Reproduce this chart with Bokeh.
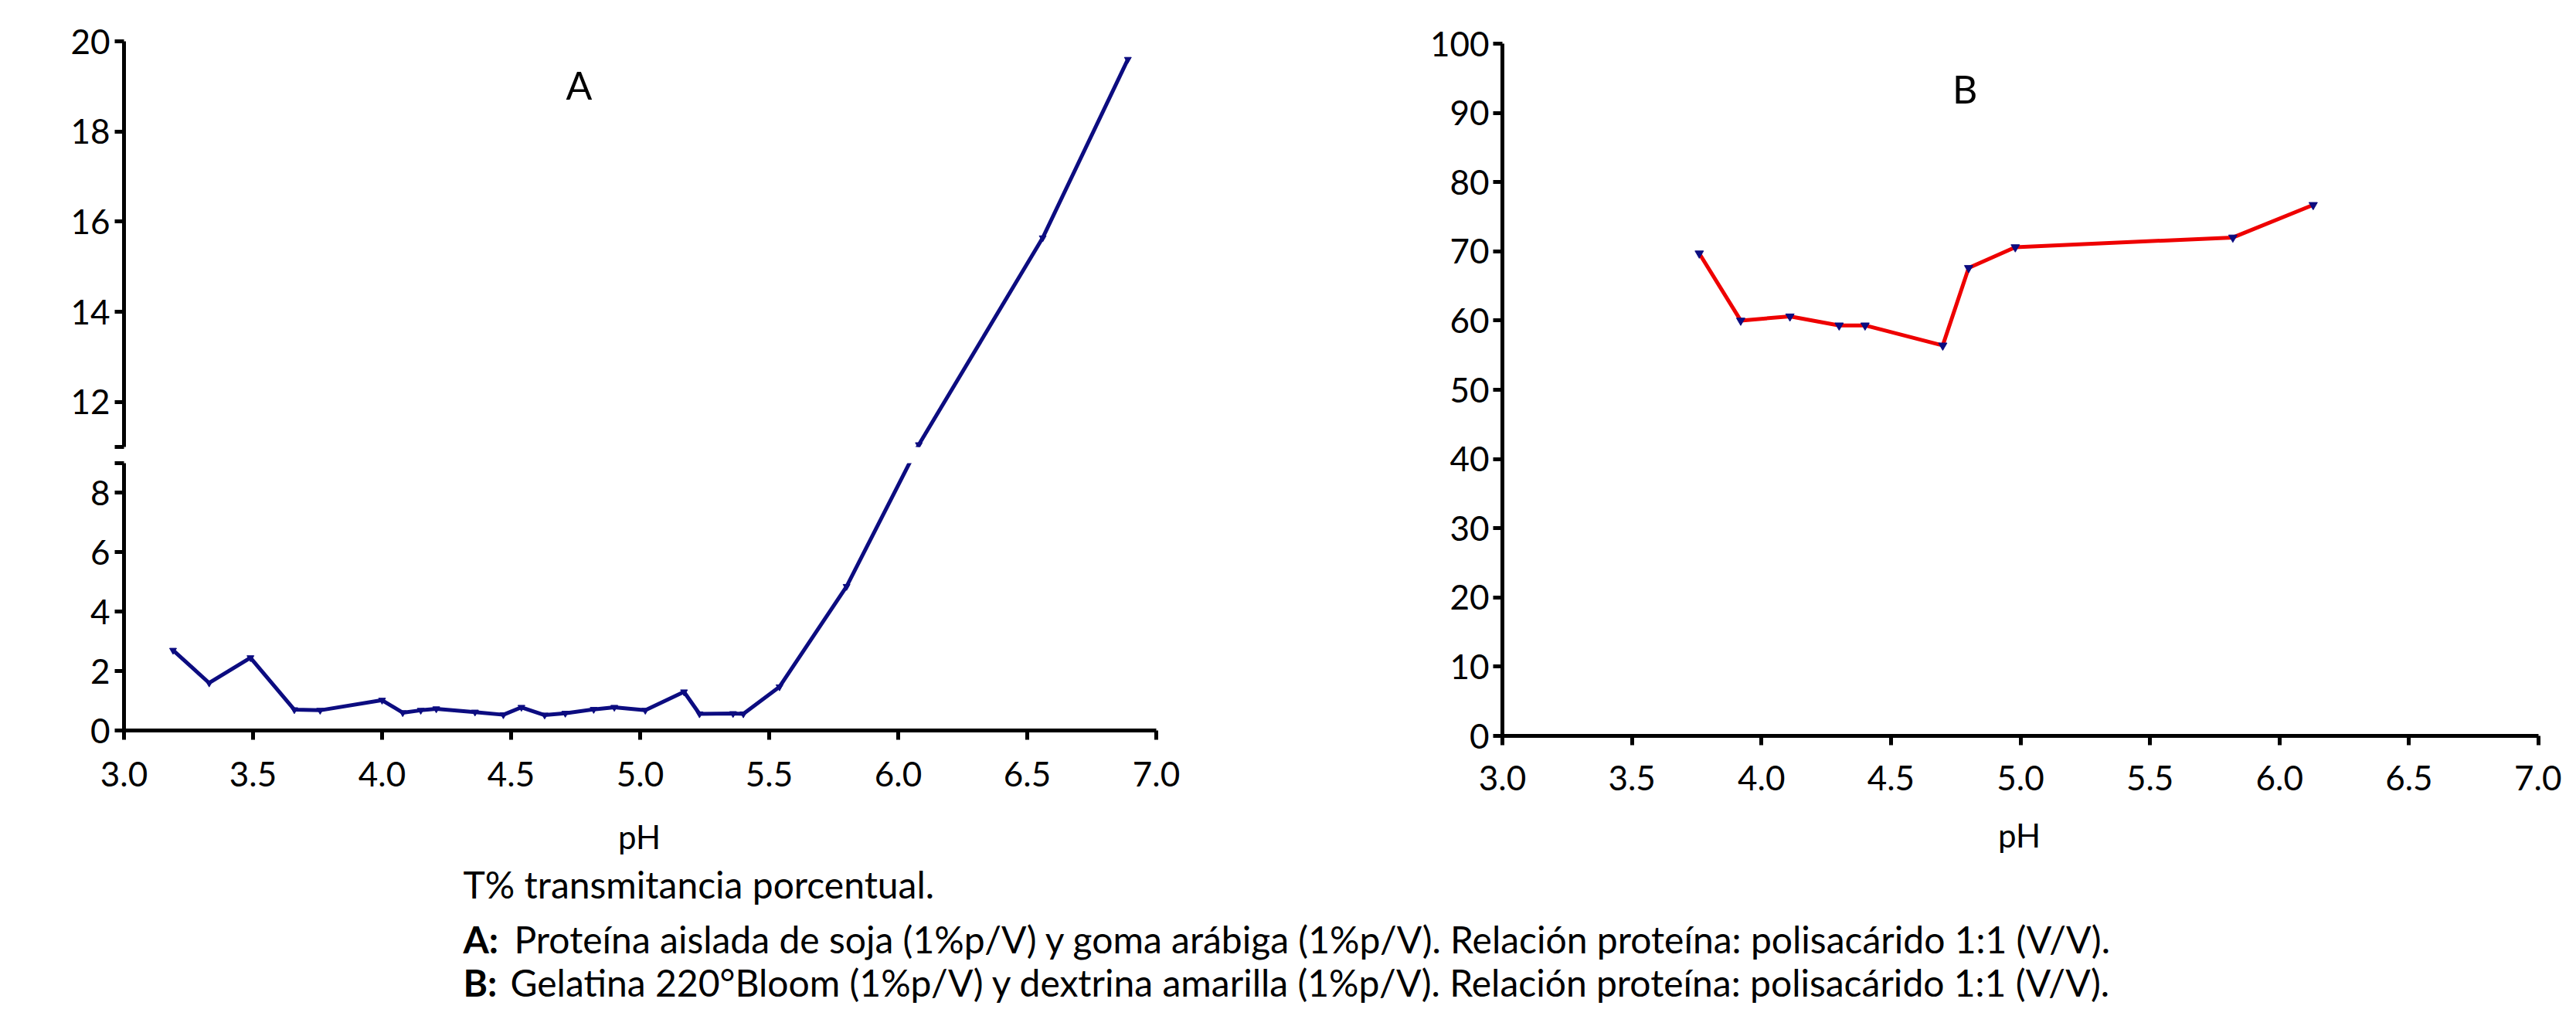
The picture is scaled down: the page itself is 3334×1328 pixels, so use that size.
from math import pi
from bokeh.plotting import figure
from bokeh.models import Range1d, FixedTicker, Label, NumeralTickFormatter
from bokeh.layouts import column, row
from bokeh.embed import file_html
from bokeh.resources import INLINE

# ---- data ----
ph_a = [3.19, 3.33, 3.49, 3.66, 3.76, 4.00, 4.08, 4.15, 4.21, 4.36, 4.47, 4.54, 4.63,
        4.71, 4.82, 4.90, 5.02, 5.17, 5.23, 5.36, 5.40, 5.54, 5.80, 6.08, 6.56, 6.89]
t_a = [2.70, 1.60, 2.45, 0.70, 0.68, 1.02, 0.60, 0.68, 0.73, 0.62, 0.53, 0.78, 0.52,
       0.58, 0.71, 0.78, 0.68, 1.30, 0.56, 0.57, 0.56, 1.47, 4.85, 11.05, 15.64, 19.60]

ph_b = [3.76, 3.92, 4.11, 4.30, 4.40, 4.70, 4.80, 4.98, 5.82, 6.13]
t_b = [69.7, 60.0, 60.6, 59.3, 59.3, 56.4, 67.6, 70.6, 72.0, 76.7]

x_ticks = [3.0, 3.5, 4.0, 4.5, 5.0, 5.5, 6.0, 6.5, 7.0]
y_ticks_a_low = [0, 2, 4, 6, 8]
y_ticks_a_high = [12, 14, 16, 18, 20]
y_ticks_b = [0, 10, 20, 30, 40, 50, 60, 70, 80, 90, 100]
a_low_max = 9     # top of the lower segment of the broken axis
a_high_min = 11   # bottom of the upper segment
a_high_max = 20

x_title = "pH"
y_title = "T%"
cap_note = "T% transmitancia porcentual."
cap_a_key = "A:"
cap_a = "Proteína aislada de soja (1%p/V) y goma arábiga (1%p/V). Relación proteína: polisacárido 1:1 (V/V)."
cap_b_key = "B:"
cap_b = "Gelatina 220°Bloom (1%p/V) y dextrina amarilla (1%p/V). Relación proteína: polisacárido 1:1 (V/V)."

NAVY = "#0c0c80"
RED = "#ee0000"
FONT = "Lato"
TICK_FS = "44px"
TITLE_FS = "42px"
PANEL_FS = "50px"
CAP_FS = "48px"

# ---- geometry ----
A_W, A_L, A_R = 1556, 160, 60
TOP_T, TOP_FRAME, TOP_B = 53, 525, 10
BOT_T, BOT_FRAME, BOT_B = 11, 346, 102
B_W, B_L, B_R, B_T, B_FRAME = 1759, 388, 30, 56, 896
ROW_H = TOP_T + TOP_FRAME + TOP_B + BOT_T + BOT_FRAME + BOT_B
CAP_W, CAP_H = A_W + B_W, 265
GAP_PX = TOP_B + BOT_T
top_px = TOP_FRAME / (a_high_max - a_high_min)
bot_px = BOT_FRAME / a_low_max


def to_low_view(v):
    # value as seen from the lower segment, keeping the line straight across the break
    if v <= a_low_max:
        return v
    return a_low_max + (GAP_PX + (v - a_high_min) * top_px) / bot_px


def to_high_view(v):
    if v >= a_high_min:
        return v
    return a_high_min - (GAP_PX + (a_low_max - v) * bot_px) / top_px


def style_axis(ax):
    ax.axis_line_width = 5
    ax.axis_line_color = "black"
    ax.major_tick_line_width = 5
    ax.major_tick_line_color = "black"
    ax.major_tick_out = 12
    ax.major_tick_in = 0
    ax.minor_tick_line_color = None
    ax.major_label_text_font = FONT
    ax.major_label_text_font_size = TICK_FS
    ax.major_label_text_color = "black"


def base(**kw):
    p = figure(output_backend="svg", toolbar_location=None, title=None, **kw)
    p.grid.visible = False
    p.outline_line_color = None
    p.background_fill_color = "white"
    p.border_fill_color = "white"
    return p


def label(p, x, y, text, angle=0.0, size=TITLE_FS, align="center", baseline="middle",
          bold=False):
    p.add_layout(Label(x=x, y=y, text=text, angle=angle, text_font=FONT,
                       text_font_size=size, text_align=align, text_baseline=baseline,
                       text_font_style="bold" if bold else "normal",
                       text_color="black"))


xr = Range1d(3, 7)

# ---- panel A, upper segment ----
a_top = base(width=A_W, height=TOP_T + TOP_FRAME + TOP_B, x_range=xr,
             y_range=Range1d(a_high_min, a_high_max),
             min_border_left=A_L, min_border_right=A_R, min_border_top=TOP_T,
             min_border_bottom=TOP_B, x_axis_location=None)
a_top.yaxis.ticker = FixedTicker(ticks=[a_high_min] + y_ticks_a_high)
a_top.yaxis.major_label_overrides = {a_high_min: ""}
style_axis(a_top.yaxis[0])
a_top.yaxis.major_label_standoff = 6
t_a_high = [to_high_view(v) for v in t_a]
a_top.line(ph_a, t_a_high, line_color=NAVY, line_width=5)
a_top.scatter(ph_a, t_a_high, marker="inverted_triangle", size=9, color=NAVY)
label(a_top, 4.763, 19.04, "A", size=PANEL_FS)
label(a_top, 2.719, 12.30, y_title, angle=pi / 2)

# ---- panel A, lower segment ----
a_bot = base(width=A_W, height=BOT_T + BOT_FRAME + BOT_B, x_range=xr,
             y_range=Range1d(0, a_low_max),
             min_border_left=A_L, min_border_right=A_R, min_border_top=BOT_T,
             min_border_bottom=BOT_B)
a_bot.yaxis.ticker = FixedTicker(ticks=y_ticks_a_low + [a_low_max])
a_bot.yaxis.major_label_overrides = {a_low_max: ""}
a_bot.xaxis.ticker = FixedTicker(ticks=x_ticks)
a_bot.xaxis.formatter = NumeralTickFormatter(format="0.0")
style_axis(a_bot.yaxis[0])
style_axis(a_bot.xaxis[0])
a_bot.yaxis.major_label_standoff = 6
a_bot.xaxis.major_label_standoff = 28
t_a_low = [to_low_view(v) for v in t_a]
a_bot.line(ph_a, t_a_low, line_color=NAVY, line_width=5)
a_bot.scatter(ph_a, t_a_low, marker="inverted_triangle", size=9, color=NAVY)

# ---- panel B ----
pb = base(width=B_W, height=ROW_H, x_range=Range1d(3, 7), y_range=Range1d(0, 100),
          min_border_left=B_L, min_border_right=B_R, min_border_top=B_T,
          min_border_bottom=ROW_H - B_T - B_FRAME)
pb.yaxis.ticker = FixedTicker(ticks=y_ticks_b)
pb.xaxis.ticker = FixedTicker(ticks=x_ticks)
pb.xaxis.formatter = NumeralTickFormatter(format="0.0")
style_axis(pb.yaxis[0])
style_axis(pb.xaxis[0])
pb.yaxis.major_label_standoff = 5
pb.xaxis.major_label_standoff = 26
pb.line(ph_b, t_b, line_color=RED, line_width=5)
pb.scatter(ph_b, t_b, marker="inverted_triangle", size=11, color=NAVY)
label(pb, 4.786, 93.5, "B", size=PANEL_FS)
label(pb, 2.645, 50.2, y_title, angle=pi / 2)

# ---- strip under the panels: x titles and caption (pixel-based coordinates) ----
cap = base(width=CAP_W, height=CAP_H, x_range=Range1d(0, CAP_W), y_range=Range1d(CAP_H, 0),
           min_border=0, x_axis_location=None, y_axis_location=None)
label(cap, 827, 35, x_title, baseline="alphabetic")
label(cap, 2613, 33, x_title, baseline="alphabetic")
label(cap, 599, 97, cap_note, size=CAP_FS, align="left", baseline="alphabetic")
label(cap, 599, 168, cap_a_key, size=CAP_FS, align="left", baseline="alphabetic", bold=True)
label(cap, 665, 168, cap_a, size=CAP_FS, align="left", baseline="alphabetic")
label(cap, 599, 224, cap_b_key, size=CAP_FS, align="left", baseline="alphabetic", bold=True)
label(cap, 660, 224, cap_b, size=CAP_FS, align="left", baseline="alphabetic")

layout = column(row(column(a_top, a_bot), pb), cap)

open("out.html", "w").write(file_html(layout, INLINE))
